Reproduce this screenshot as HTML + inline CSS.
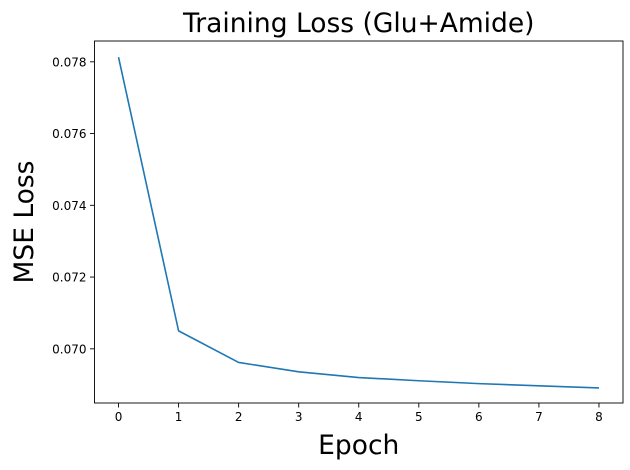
<!DOCTYPE html>
<html><head><meta charset="utf-8"><style>
body{margin:0;background:#fff;}
svg{display:block;font-family:"DejaVu Sans","Liberation Sans",sans-serif;}
</style></head><body>
<svg id="chart" width="630" height="470" viewBox="0 0 630 470"></svg>
<script>
const epochs=[0,1,2,3,4,5,6,7,8];
const lossValues=[0.07813,0.0705,0.06962,0.06936,0.06920,0.06911,0.06903,0.06897,0.06891];
const xTicks=[0,1,2,3,4,5,6,7,8];
const yTicks=[0.070,0.072,0.074,0.076,0.078];
const NS="http://www.w3.org/2000/svg";
const svg=document.getElementById('chart');
const L=94.5,R=623,T=41,B=403;
const xmin=-0.4,xmax=8.4,ymin=0.06849,ymax=0.07858;
const sx=v=>L+(v-xmin)/(xmax-xmin)*(R-L);
const sy=v=>B-(v-ymin)/(ymax-ymin)*(B-T);
function mk(tag,attrs,txt){const e=document.createElementNS(NS,tag);for(const k in attrs)e.setAttribute(k,attrs[k]);if(txt!==undefined)e.textContent=txt;svg.appendChild(e);return e;}
let e;
e=mk('polyline',{points:epochs.map((x,i)=>sx(x)+','+sy(lossValues[i])).join(' '),fill:'none',stroke:'#1f77b4','stroke-width':1.6,'stroke-linejoin':'round'});


e=mk('rect',{x:L,y:T,width:R-L,height:B-T,fill:'none',stroke:'#000','stroke-width':0.9});


xTicks.forEach(t=>{
 e=mk('line',{x1:sx(t),x2:sx(t),y1:B,y2:B+4.5,stroke:'#000','stroke-width':0.9});
 
 
 e=mk('text',{x:sx(t),y:B+18,'text-anchor':'middle','font-size':12},String(t));
 
 
});
yTicks.forEach(t=>{
 e=mk('line',{x1:L-4.5,x2:L,y1:sy(t),y2:sy(t),stroke:'#000','stroke-width':0.9});
 
 
 e=mk('text',{x:L-8,y:sy(t)+4.5,'text-anchor':'end','font-size':12},t.toFixed(3));
 
 
});
e=mk('text',{x:(L+R)/2,y:32,'text-anchor':'middle','font-size':26.5},'Training Loss (Glu+Amide)');


e=mk('text',{x:(L+R)/2,y:454,'text-anchor':'middle','font-size':26.5},'Epoch');


e=mk('text',{x:0,y:0,'text-anchor':'middle','font-size':26.5,transform:'translate(33,'+((T+B)/2)+') rotate(-90)'},'MSE Loss');


</script>
</body></html>
